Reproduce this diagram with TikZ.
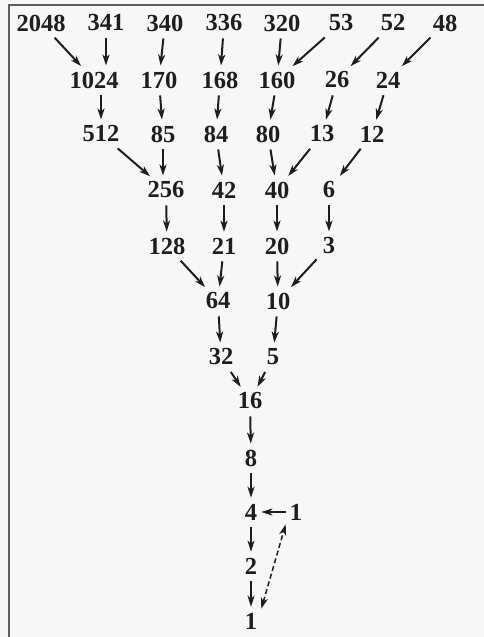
\documentclass[tikz,border=0pt]{standalone}
\usepackage{fontspec}
\setmainfont{Liberation Serif}
\usetikzlibrary{arrows.meta}
\definecolor{paper}{HTML}{F7F7F7}
\definecolor{frame}{HTML}{5E5E5E}
\definecolor{ink}{HTML}{1E1E1E}

\begin{document}
\begin{tikzpicture}[x=1pt,y=-1pt,
  num/.style={inner sep=4pt,text=ink,font=\fontsize{24.5}{28}\selectfont\bfseries},
  arr/.style={ink,line width=2pt,-{Stealth[length=11pt,width=7pt,inset=3pt]},shorten <=3pt,shorten >=2pt}]
\useasboundingbox (0,0) rectangle (484,637);
\fill[paper] (0,0) rectangle (484,637);
\draw[frame,line width=2pt] (9,637)--(9,5)--(484,5);
% numbers, row by row
\foreach \n/\x/\y in {2048/41/23,341/106/23,340/165/23,336/224/23,320/282/23,53/341/23,52/393/23,48/445/23,
  1024/94/80,170/159/80,168/220/80,160/277/80,26/337/80,24/388/80,
  512/101/134,85/163/134,84/216/134,80/268/134,13/322/134,12/372/134,
  256/166/190,42/224/190,40/277/190,6/329/190,
  128/167/246,21/224/246,20/277/246,3/329/246,
  64/218/301,10/278/301,32/221/357,5/273/357,
  16/250/401,8/251/458,4/251/512,2/251/566}
  \node[num] (n\n) at (\x,\y) {\n};
\node[num] (n1r) at (296,512) {1};
\node[num] (n1) at (251,621) {1};
% halving and 3n+1 steps
\foreach \a/\b in {2048/1024,340/170,336/168,320/160,53/160,52/26,48/24,
  170/85,168/84,160/80,26/13,24/12,
  512/256,84/42,80/40,13/40,12/6,
  256/128,42/21,40/20,6/3,128/64,21/64,20/10,3/10,
  64/32,10/5,32/16,5/16,16/8,8/4,4/2,2/1}
  \draw[arr] (n\a) -- (n\b);
\draw[arr] (n341) -- (n341 |- n1024.north);
\draw[arr] (n1024.south -| n512) -- (n512);
\draw[arr] (n85) -- (n85 |- n256.north);
\draw[arr,shorten <=0pt,shorten >=0pt] (n1r) -- (n4);
\draw[arr,{Stealth[length=11pt,width=7pt,inset=3pt]}-{Stealth[length=11pt,width=7pt,inset=3pt]},dash pattern=on 5pt off 3pt,line width=1.5pt,shorten <=0pt,shorten >=0pt] (n1.north east) -- (n1r.south west);
\end{tikzpicture}
\end{document}
